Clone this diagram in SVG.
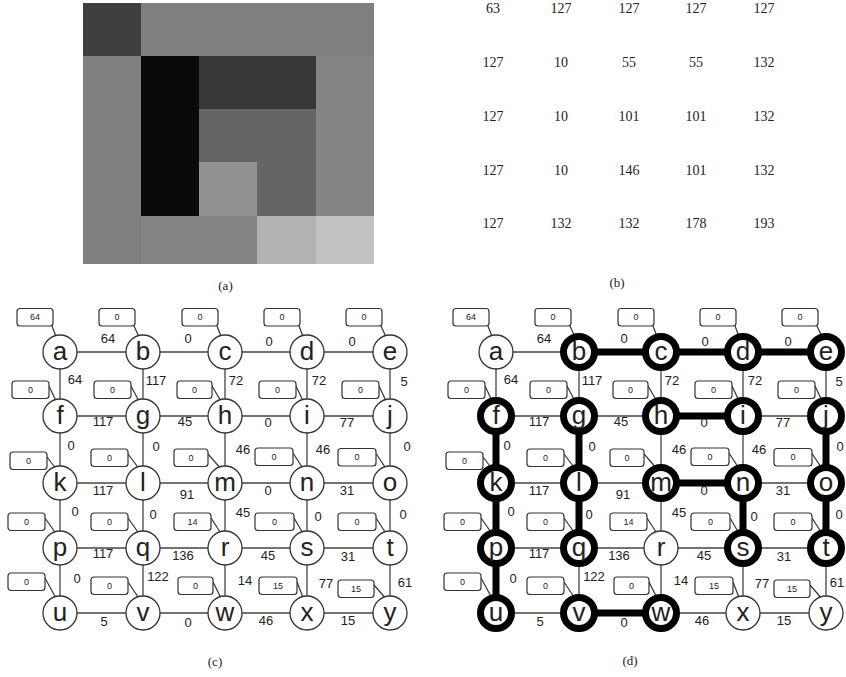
<svg xmlns="http://www.w3.org/2000/svg" width="846" height="677" viewBox="0 0 846 677">
<style>
.cap{font-family:"Liberation Serif",serif;font-size:13px;fill:#222;text-anchor:middle}
.num{font-family:"Liberation Serif",serif;font-size:14px;fill:#222;text-anchor:middle}
.e{stroke:#444;stroke-width:1.3;fill:none}
.et{stroke:#000;stroke-width:7;fill:none}
.w{font-family:"Liberation Sans",Arial,sans-serif;font-size:13px;fill:#222;text-anchor:middle}
.n{fill:#fff;stroke:#333;stroke-width:1.3}
.nt{fill:#fff;stroke:#000;stroke-width:7}
.lt{font-family:"Liberation Sans",Arial,sans-serif;font-size:26px;fill:#222;text-anchor:middle}
.bx{fill:#fff;stroke:#333;stroke-width:1.2}
.bt{font-family:"Liberation Sans",Arial,sans-serif;font-size:9px;fill:#222;text-anchor:middle}
.t{stroke:#333;stroke-width:1.2}
</style>
<rect width="846" height="677" fill="#fff"/>
<!-- panel a -->
<g id="panel-a">
<rect x="83" y="3" width="58" height="53" fill="#3f3f3f"/>
<rect x="141" y="3" width="58" height="53" fill="#7f7f7f"/>
<rect x="199" y="3" width="58" height="53" fill="#7f7f7f"/>
<rect x="257" y="3" width="59" height="53" fill="#7f7f7f"/>
<rect x="316" y="3" width="58" height="53" fill="#7f7f7f"/>
<rect x="83" y="56" width="58" height="53" fill="#7f7f7f"/>
<rect x="141" y="56" width="58" height="53" fill="#0a0a0a"/>
<rect x="199" y="56" width="58" height="53" fill="#373737"/>
<rect x="257" y="56" width="59" height="53" fill="#373737"/>
<rect x="316" y="56" width="58" height="53" fill="#848484"/>
<rect x="83" y="109" width="58" height="53" fill="#7f7f7f"/>
<rect x="141" y="109" width="58" height="53" fill="#0a0a0a"/>
<rect x="199" y="109" width="58" height="53" fill="#656565"/>
<rect x="257" y="109" width="59" height="53" fill="#656565"/>
<rect x="316" y="109" width="58" height="53" fill="#848484"/>
<rect x="83" y="162" width="58" height="54" fill="#7f7f7f"/>
<rect x="141" y="162" width="58" height="54" fill="#0a0a0a"/>
<rect x="199" y="162" width="58" height="54" fill="#929292"/>
<rect x="257" y="162" width="59" height="54" fill="#656565"/>
<rect x="316" y="162" width="58" height="54" fill="#848484"/>
<rect x="83" y="216" width="58" height="48" fill="#7f7f7f"/>
<rect x="141" y="216" width="58" height="48" fill="#848484"/>
<rect x="199" y="216" width="58" height="48" fill="#848484"/>
<rect x="257" y="216" width="59" height="48" fill="#b2b2b2"/>
<rect x="316" y="216" width="58" height="48" fill="#c1c1c1"/>
<text class="cap" x="225.5" y="290">(a)</text>
</g>
<!-- panel b -->
<g id="panel-b">
<text class="num" x="493" y="13">63</text><text class="num" x="561" y="13">127</text><text class="num" x="629" y="13">127</text><text class="num" x="696" y="13">127</text><text class="num" x="764" y="13">127</text>
<text class="num" x="493" y="67">127</text><text class="num" x="561" y="67">10</text><text class="num" x="629" y="67">55</text><text class="num" x="696" y="67">55</text><text class="num" x="764" y="67">132</text>
<text class="num" x="493" y="120.5">127</text><text class="num" x="561" y="120.5">10</text><text class="num" x="629" y="120.5">101</text><text class="num" x="696" y="120.5">101</text><text class="num" x="764" y="120.5">132</text>
<text class="num" x="493" y="174.5">127</text><text class="num" x="561" y="174.5">10</text><text class="num" x="629" y="174.5">146</text><text class="num" x="696" y="174.5">101</text><text class="num" x="764" y="174.5">132</text>
<text class="num" x="493" y="228">127</text><text class="num" x="561" y="228">132</text><text class="num" x="629" y="228">132</text><text class="num" x="696" y="228">178</text><text class="num" x="764" y="228">193</text>
<text class="cap" x="617" y="287">(b)</text>
</g>
<!-- panel c connectors -->
<g id="connectors-c">
<g class="e">
<line x1="60" y1="352" x2="143" y2="352"/><line x1="143" y1="352" x2="225" y2="352"/><line x1="225" y1="352" x2="307" y2="352"/><line x1="307" y1="352" x2="390" y2="352"/>
<line x1="60" y1="416" x2="143" y2="416"/><line x1="143" y1="416" x2="225" y2="416"/><line x1="225" y1="416" x2="307" y2="416"/><line x1="307" y1="416" x2="390" y2="416"/>
<line x1="60" y1="483" x2="143" y2="483"/><line x1="143" y1="483" x2="225" y2="483"/><line x1="225" y1="483" x2="307" y2="483"/><line x1="307" y1="483" x2="390" y2="483"/>
<line x1="60" y1="548" x2="143" y2="548"/><line x1="143" y1="548" x2="225" y2="548"/><line x1="225" y1="548" x2="307" y2="548"/><line x1="307" y1="548" x2="390" y2="548"/>
<line x1="60" y1="613" x2="143" y2="613"/><line x1="143" y1="613" x2="225" y2="613"/><line x1="225" y1="613" x2="307" y2="613"/><line x1="307" y1="613" x2="390" y2="613"/>
<line x1="60" y1="352" x2="60" y2="416"/><line x1="60" y1="416" x2="60" y2="483"/><line x1="60" y1="483" x2="60" y2="548"/><line x1="60" y1="548" x2="60" y2="613"/>
<line x1="143" y1="352" x2="143" y2="416"/><line x1="143" y1="416" x2="143" y2="483"/><line x1="143" y1="483" x2="143" y2="548"/><line x1="143" y1="548" x2="143" y2="613"/>
<line x1="225" y1="352" x2="225" y2="416"/><line x1="225" y1="416" x2="225" y2="483"/><line x1="225" y1="483" x2="225" y2="548"/><line x1="225" y1="548" x2="225" y2="613"/>
<line x1="307" y1="352" x2="307" y2="416"/><line x1="307" y1="416" x2="307" y2="483"/><line x1="307" y1="483" x2="307" y2="548"/><line x1="307" y1="548" x2="307" y2="613"/>
<line x1="390" y1="352" x2="390" y2="416"/><line x1="390" y1="416" x2="390" y2="483"/><line x1="390" y1="483" x2="390" y2="548"/><line x1="390" y1="548" x2="390" y2="613"/>
</g>
<g class="w">
<text x="108" y="343">64</text><text x="188" y="343">0</text><text x="269" y="346">0</text><text x="352" y="346">0</text>
<text x="103" y="426">117</text><text x="185" y="426">45</text><text x="268" y="426.5">0</text><text x="347" y="427">77</text>
<text x="103" y="495">117</text><text x="187" y="498.5">91</text><text x="268" y="494.5">0</text><text x="347" y="495">31</text>
<text x="103" y="558">117</text><text x="183" y="559.5">136</text><text x="268" y="559.5">45</text><text x="348" y="561">31</text>
<text x="104" y="626">5</text><text x="188" y="627">0</text><text x="266" y="625">46</text><text x="348" y="625">15</text>
<text x="75" y="383.5">64</text><text x="156" y="384.5">117</text><text x="236" y="384.5">72</text><text x="319" y="384.5">72</text><text x="404" y="385.5">5</text>
<text x="71" y="449.5">0</text><text x="156" y="450.5">0</text><text x="243" y="453.5">46</text><text x="323" y="453.5">46</text><text x="407" y="451">0</text>
<text x="75" y="516">0</text><text x="153" y="519">0</text><text x="243" y="517">45</text><text x="318" y="521">0</text><text x="403" y="519">0</text>
<text x="77" y="583">0</text><text x="158" y="581">122</text><text x="245" y="584.5">14</text><text x="326" y="588">77</text><text x="405" y="587">61</text>
</g>
</g>
<!-- panel c nodes -->
<g id="c-a"><line class="t" x1="52" y1="326" x2="57" y2="339"/><rect class="bx" x="17" y="308.5" width="36" height="17.5" rx="3"/><text class="bt" x="35" y="320.3">64</text><circle class="n" cx="60" cy="352" r="17"/><text class="lt" x="60" y="360">a</text></g>
<g id="c-b"><line class="t" x1="134" y1="326" x2="140" y2="339"/><rect class="bx" x="99" y="308.5" width="36" height="17.5" rx="3"/><text class="bt" x="117" y="320.3">0</text><circle class="n" cx="143" cy="352" r="17"/><text class="lt" x="143" y="360">b</text></g>
<g id="c-c"><line class="t" x1="217" y1="326" x2="222" y2="339"/><rect class="bx" x="182" y="308.5" width="36" height="17.5" rx="3"/><text class="bt" x="200" y="320.3">0</text><circle class="n" cx="225" cy="352" r="17"/><text class="lt" x="225" y="360">c</text></g>
<g id="c-d"><line class="t" x1="299" y1="326" x2="304" y2="339"/><rect class="bx" x="264" y="308.5" width="36" height="17.5" rx="3"/><text class="bt" x="282" y="320.3">0</text><circle class="n" cx="307" cy="352" r="17"/><text class="lt" x="307" y="360">d</text></g>
<g id="c-e"><line class="t" x1="381" y1="326" x2="387" y2="339"/><rect class="bx" x="346" y="308.5" width="36" height="17.5" rx="3"/><text class="bt" x="364" y="320.3">0</text><circle class="n" cx="390" cy="352" r="17"/><text class="lt" x="390" y="360">e</text></g>
<g id="c-f"><line class="t" x1="49" y1="386" x2="57" y2="403"/><rect class="bx" x="12" y="381" width="37" height="17.5" rx="3"/><text class="bt" x="30.5" y="392.8">0</text><circle class="n" cx="60" cy="416" r="17"/><text class="lt" x="60" y="424">f</text></g>
<g id="c-g"><line class="t" x1="131" y1="386" x2="140" y2="403"/><rect class="bx" x="94" y="381" width="37" height="17.5" rx="3"/><text class="bt" x="112.5" y="392.8">0</text><circle class="n" cx="143" cy="416" r="17"/><text class="lt" x="143" y="424">g</text></g>
<g id="c-h"><line class="t" x1="212" y1="386" x2="222" y2="403"/><rect class="bx" x="177" y="381" width="35" height="17.5" rx="3"/><text class="bt" x="194.5" y="392.8">0</text><circle class="n" cx="225" cy="416" r="17"/><text class="lt" x="225" y="424">h</text></g>
<g id="c-i"><line class="t" x1="296" y1="386" x2="304" y2="403"/><rect class="bx" x="259" y="381" width="37" height="17.5" rx="3"/><text class="bt" x="277.5" y="392.8">0</text><circle class="n" cx="307" cy="416" r="17"/><text class="lt" x="307" y="424">i</text></g>
<g id="c-j"><line class="t" x1="379" y1="386" x2="387" y2="403"/><rect class="bx" x="342" y="381" width="37" height="17.5" rx="3"/><text class="bt" x="360.5" y="392.8">0</text><circle class="n" cx="390" cy="416" r="17"/><text class="lt" x="390" y="424">j</text></g>
<g id="c-k"><line class="t" x1="47" y1="457" x2="57" y2="470"/><rect class="bx" x="10" y="452" width="37" height="17.5" rx="3"/><text class="bt" x="28.5" y="463.8">0</text><circle class="n" cx="60" cy="483" r="17"/><text class="lt" x="60" y="491">k</text></g>
<g id="c-l"><line class="t" x1="128" y1="454" x2="140" y2="470"/><rect class="bx" x="91" y="449" width="37" height="17.5" rx="3"/><text class="bt" x="109.5" y="460.8">0</text><circle class="n" cx="143" cy="483" r="17"/><text class="lt" x="143" y="491">l</text></g>
<g id="c-m"><line class="t" x1="208" y1="454" x2="222" y2="470"/><rect class="bx" x="174" y="449" width="34" height="17.5" rx="3"/><text class="bt" x="191" y="460.8">0</text><circle class="n" cx="225" cy="483" r="17"/><text class="lt" x="225" y="491">m</text></g>
<g id="c-n"><line class="t" x1="293" y1="453" x2="304" y2="470"/><rect class="bx" x="255" y="448" width="38" height="17.5" rx="3"/><text class="bt" x="274" y="459.8">0</text><circle class="n" cx="307" cy="483" r="17"/><text class="lt" x="307" y="491">n</text></g>
<g id="c-o"><line class="t" x1="376" y1="453.5" x2="387" y2="470"/><rect class="bx" x="338" y="448.5" width="38" height="17.5" rx="3"/><text class="bt" x="357" y="460.3">0</text><circle class="n" cx="390" cy="483" r="17"/><text class="lt" x="390" y="491">o</text></g>
<g id="c-p"><line class="t" x1="45" y1="518" x2="57" y2="535"/><rect class="bx" x="8" y="513" width="37" height="17.5" rx="3"/><text class="bt" x="26.5" y="524.8">0</text><circle class="n" cx="60" cy="548" r="17"/><text class="lt" x="60" y="556">p</text></g>
<g id="c-q"><line class="t" x1="128" y1="518" x2="140" y2="535"/><rect class="bx" x="91" y="513" width="37" height="17.5" rx="3"/><text class="bt" x="109.5" y="524.8">0</text><circle class="n" cx="143" cy="548" r="17"/><text class="lt" x="143" y="556">q</text></g>
<g id="c-r"><line class="t" x1="211" y1="518" x2="222" y2="535"/><rect class="bx" x="174" y="513" width="37" height="17.5" rx="3"/><text class="bt" x="192.5" y="524.8">14</text><circle class="n" cx="225" cy="548" r="17"/><text class="lt" x="225" y="556">r</text></g>
<g id="c-s"><line class="t" x1="294" y1="518" x2="304" y2="535"/><rect class="bx" x="255" y="513" width="39" height="17.5" rx="3"/><text class="bt" x="274.5" y="524.8">0</text><circle class="n" cx="307" cy="548" r="17"/><text class="lt" x="307" y="556">s</text></g>
<g id="c-t"><line class="t" x1="376" y1="518" x2="387" y2="535"/><rect class="bx" x="338" y="513" width="38" height="17.5" rx="3"/><text class="bt" x="357" y="524.8">0</text><circle class="n" cx="390" cy="548" r="17"/><text class="lt" x="390" y="556">t</text></g>
<g id="c-u"><line class="t" x1="45" y1="578" x2="57" y2="600"/><rect class="bx" x="8" y="573" width="37" height="17.5" rx="3"/><text class="bt" x="26.5" y="584.8">0</text><circle class="n" cx="60" cy="613" r="17"/><text class="lt" x="60" y="621">u</text></g>
<g id="c-v"><line class="t" x1="128" y1="582" x2="140" y2="600"/><rect class="bx" x="91" y="577" width="37" height="17.5" rx="3"/><text class="bt" x="109.5" y="588.8">0</text><circle class="n" cx="143" cy="613" r="17"/><text class="lt" x="143" y="621">v</text></g>
<g id="c-w"><line class="t" x1="213" y1="582" x2="222" y2="600"/><rect class="bx" x="178" y="577" width="35" height="17.5" rx="3"/><text class="bt" x="195.5" y="588.8">0</text><circle class="n" cx="225" cy="613" r="17"/><text class="lt" x="225" y="621">w</text></g>
<g id="c-x"><line class="t" x1="297" y1="582" x2="304" y2="600"/><rect class="bx" x="259" y="577" width="38" height="17.5" rx="3"/><text class="bt" x="278" y="588.8">15</text><circle class="n" cx="307" cy="613" r="17"/><text class="lt" x="307" y="621">x</text></g>
<g id="c-y"><line class="t" x1="374" y1="585" x2="387" y2="600"/><rect class="bx" x="338" y="580" width="36" height="17.5" rx="3"/><text class="bt" x="356" y="591.8">15</text><circle class="n" cx="390" cy="613" r="17"/><text class="lt" x="390" y="621">y</text></g>
<text class="cap" x="215" y="666">(c)</text>
<!-- panel d connectors -->
<g id="connectors-d">
<g class="w">
<text x="544" y="343">64</text><text x="624" y="343">0</text><text x="705" y="346">0</text><text x="788" y="346">0</text>
<text x="539" y="426">117</text><text x="621" y="426">45</text><text x="704" y="426.5">0</text><text x="783" y="427">77</text>
<text x="539" y="495">117</text><text x="623" y="498.5">91</text><text x="704" y="494.5">0</text><text x="783" y="495">31</text>
<text x="539" y="558">117</text><text x="619" y="559.5">136</text><text x="704" y="559.5">45</text><text x="784" y="561">31</text>
<text x="540" y="626">5</text><text x="624" y="627">0</text><text x="702" y="625">46</text><text x="784" y="625">15</text>
<text x="511" y="383.5">64</text><text x="592" y="384.5">117</text><text x="672" y="384.5">72</text><text x="755" y="384.5">72</text><text x="839" y="385.5">5</text>
<text x="507" y="449.5">0</text><text x="592" y="450.5">0</text><text x="679" y="453.5">46</text><text x="759" y="453.5">46</text><text x="840" y="451">0</text>
<text x="511" y="516">0</text><text x="589" y="519">0</text><text x="679" y="517">45</text><text x="754" y="521">0</text><text x="839" y="519">0</text>
<text x="513" y="583">0</text><text x="594" y="581">122</text><text x="681" y="584.5">14</text><text x="762" y="588">77</text><text x="837" y="587">61</text>
</g>
<g class="e">
<line x1="496" y1="352" x2="579" y2="352"/>
<line x1="496" y1="416" x2="579" y2="416"/><line x1="579" y1="416" x2="661" y2="416"/><line x1="743" y1="416" x2="826" y2="416"/>
<line x1="496" y1="483" x2="579" y2="483"/><line x1="579" y1="483" x2="661" y2="483"/><line x1="743" y1="483" x2="826" y2="483"/>
<line x1="496" y1="548" x2="579" y2="548"/><line x1="579" y1="548" x2="661" y2="548"/><line x1="661" y1="548" x2="743" y2="548"/><line x1="743" y1="548" x2="826" y2="548"/>
<line x1="496" y1="613" x2="579" y2="613"/><line x1="661" y1="613" x2="743" y2="613"/><line x1="743" y1="613" x2="826" y2="613"/>
<line x1="496" y1="352" x2="496" y2="416"/>
<line x1="579" y1="352" x2="579" y2="416"/><line x1="579" y1="548" x2="579" y2="613"/>
<line x1="661" y1="352" x2="661" y2="416"/><line x1="661" y1="416" x2="661" y2="483"/><line x1="661" y1="483" x2="661" y2="548"/><line x1="661" y1="548" x2="661" y2="613"/>
<line x1="743" y1="352" x2="743" y2="416"/><line x1="743" y1="416" x2="743" y2="483"/><line x1="743" y1="548" x2="743" y2="613"/>
<line x1="826" y1="352" x2="826" y2="416"/><line x1="826" y1="548" x2="826" y2="613"/>
</g>
<g class="et">
<line x1="579" y1="352" x2="661" y2="352"/><line x1="661" y1="352" x2="743" y2="352"/><line x1="743" y1="352" x2="826" y2="352"/>
<line x1="661" y1="416" x2="743" y2="416"/>
<line x1="661" y1="483" x2="743" y2="483"/>
<line x1="579" y1="613" x2="661" y2="613"/>
<line x1="496" y1="416" x2="496" y2="483"/><line x1="496" y1="483" x2="496" y2="548"/><line x1="496" y1="548" x2="496" y2="613"/>
<line x1="579" y1="416" x2="579" y2="483"/><line x1="579" y1="483" x2="579" y2="548"/>
<line x1="743" y1="483" x2="743" y2="548"/>
<line x1="826" y1="416" x2="826" y2="483"/><line x1="826" y1="483" x2="826" y2="548"/>
</g>
</g>
<!-- panel d nodes -->
<g id="d-a"><line class="t" x1="488" y1="326" x2="493" y2="339"/><rect class="bx" x="453" y="308.5" width="36" height="17.5" rx="3"/><text class="bt" x="471" y="320.3">64</text><circle class="n" cx="496" cy="352" r="17"/><text class="lt" x="496" y="360">a</text></g>
<g id="d-b"><line class="t" x1="570" y1="326" x2="576" y2="339"/><rect class="bx" x="535" y="308.5" width="36" height="17.5" rx="3"/><text class="bt" x="553" y="320.3">0</text><circle class="nt" cx="579" cy="352" r="15.5"/><text class="lt" x="579" y="360">b</text></g>
<g id="d-c"><line class="t" x1="653" y1="326" x2="658" y2="339"/><rect class="bx" x="618" y="308.5" width="36" height="17.5" rx="3"/><text class="bt" x="636" y="320.3">0</text><circle class="nt" cx="661" cy="352" r="15.5"/><text class="lt" x="661" y="360">c</text></g>
<g id="d-d"><line class="t" x1="735" y1="326" x2="740" y2="339"/><rect class="bx" x="700" y="308.5" width="36" height="17.5" rx="3"/><text class="bt" x="718" y="320.3">0</text><circle class="nt" cx="743" cy="352" r="15.5"/><text class="lt" x="743" y="360">d</text></g>
<g id="d-e"><line class="t" x1="817" y1="326" x2="823" y2="339"/><rect class="bx" x="782" y="308.5" width="36" height="17.5" rx="3"/><text class="bt" x="800" y="320.3">0</text><circle class="nt" cx="826" cy="352" r="15.5"/><text class="lt" x="826" y="360">e</text></g>
<g id="d-f"><line class="t" x1="485" y1="386" x2="493" y2="403"/><rect class="bx" x="448" y="381" width="37" height="17.5" rx="3"/><text class="bt" x="466.5" y="392.8">0</text><circle class="nt" cx="496" cy="416" r="15.5"/><text class="lt" x="496" y="424">f</text></g>
<g id="d-g"><line class="t" x1="567" y1="386" x2="576" y2="403"/><rect class="bx" x="530" y="381" width="37" height="17.5" rx="3"/><text class="bt" x="548.5" y="392.8">0</text><circle class="nt" cx="579" cy="416" r="15.5"/><text class="lt" x="579" y="424">g</text></g>
<g id="d-h"><line class="t" x1="648" y1="386" x2="658" y2="403"/><rect class="bx" x="613" y="381" width="35" height="17.5" rx="3"/><text class="bt" x="630.5" y="392.8">0</text><circle class="nt" cx="661" cy="416" r="15.5"/><text class="lt" x="661" y="424">h</text></g>
<g id="d-i"><line class="t" x1="732" y1="386" x2="740" y2="403"/><rect class="bx" x="695" y="381" width="37" height="17.5" rx="3"/><text class="bt" x="713.5" y="392.8">0</text><circle class="nt" cx="743" cy="416" r="15.5"/><text class="lt" x="743" y="424">i</text></g>
<g id="d-j"><line class="t" x1="815" y1="386" x2="823" y2="403"/><rect class="bx" x="778" y="381" width="37" height="17.5" rx="3"/><text class="bt" x="796.5" y="392.8">0</text><circle class="nt" cx="826" cy="416" r="15.5"/><text class="lt" x="826" y="424">j</text></g>
<g id="d-k"><line class="t" x1="483" y1="457" x2="493" y2="470"/><rect class="bx" x="446" y="452" width="37" height="17.5" rx="3"/><text class="bt" x="464.5" y="463.8">0</text><circle class="nt" cx="496" cy="483" r="15.5"/><text class="lt" x="496" y="491">k</text></g>
<g id="d-l"><line class="t" x1="564" y1="454" x2="576" y2="470"/><rect class="bx" x="527" y="449" width="37" height="17.5" rx="3"/><text class="bt" x="545.5" y="460.8">0</text><circle class="nt" cx="579" cy="483" r="15.5"/><text class="lt" x="579" y="491">l</text></g>
<g id="d-m"><line class="t" x1="644" y1="454" x2="658" y2="470"/><rect class="bx" x="610" y="449" width="34" height="17.5" rx="3"/><text class="bt" x="627" y="460.8">0</text><circle class="nt" cx="661" cy="483" r="15.5"/><text class="lt" x="661" y="491">m</text></g>
<g id="d-n"><line class="t" x1="729" y1="453" x2="740" y2="470"/><rect class="bx" x="691" y="448" width="38" height="17.5" rx="3"/><text class="bt" x="710" y="459.8">0</text><circle class="nt" cx="743" cy="483" r="15.5"/><text class="lt" x="743" y="491">n</text></g>
<g id="d-o"><line class="t" x1="812" y1="453.5" x2="823" y2="470"/><rect class="bx" x="774" y="448.5" width="38" height="17.5" rx="3"/><text class="bt" x="793" y="460.3">0</text><circle class="nt" cx="826" cy="483" r="15.5"/><text class="lt" x="826" y="491">o</text></g>
<g id="d-p"><line class="t" x1="481" y1="518" x2="493" y2="535"/><rect class="bx" x="444" y="513" width="37" height="17.5" rx="3"/><text class="bt" x="462.5" y="524.8">0</text><circle class="nt" cx="496" cy="548" r="15.5"/><text class="lt" x="496" y="556">p</text></g>
<g id="d-q"><line class="t" x1="564" y1="518" x2="576" y2="535"/><rect class="bx" x="527" y="513" width="37" height="17.5" rx="3"/><text class="bt" x="545.5" y="524.8">0</text><circle class="nt" cx="579" cy="548" r="15.5"/><text class="lt" x="579" y="556">q</text></g>
<g id="d-r"><line class="t" x1="647" y1="518" x2="658" y2="535"/><rect class="bx" x="610" y="513" width="37" height="17.5" rx="3"/><text class="bt" x="628.5" y="524.8">14</text><circle class="n" cx="661" cy="548" r="17"/><text class="lt" x="661" y="556">r</text></g>
<g id="d-s"><line class="t" x1="730" y1="518" x2="740" y2="535"/><rect class="bx" x="691" y="513" width="39" height="17.5" rx="3"/><text class="bt" x="710.5" y="524.8">0</text><circle class="nt" cx="743" cy="548" r="15.5"/><text class="lt" x="743" y="556">s</text></g>
<g id="d-t"><line class="t" x1="812" y1="518" x2="823" y2="535"/><rect class="bx" x="774" y="513" width="38" height="17.5" rx="3"/><text class="bt" x="793" y="524.8">0</text><circle class="nt" cx="826" cy="548" r="15.5"/><text class="lt" x="826" y="556">t</text></g>
<g id="d-u"><line class="t" x1="481" y1="578" x2="493" y2="600"/><rect class="bx" x="444" y="573" width="37" height="17.5" rx="3"/><text class="bt" x="462.5" y="584.8">0</text><circle class="nt" cx="496" cy="613" r="15.5"/><text class="lt" x="496" y="621">u</text></g>
<g id="d-v"><line class="t" x1="564" y1="582" x2="576" y2="600"/><rect class="bx" x="527" y="577" width="37" height="17.5" rx="3"/><text class="bt" x="545.5" y="588.8">0</text><circle class="nt" cx="579" cy="613" r="15.5"/><text class="lt" x="579" y="621">v</text></g>
<g id="d-w"><line class="t" x1="649" y1="582" x2="658" y2="600"/><rect class="bx" x="614" y="577" width="35" height="17.5" rx="3"/><text class="bt" x="631.5" y="588.8">0</text><circle class="nt" cx="661" cy="613" r="15.5"/><text class="lt" x="661" y="621">w</text></g>
<g id="d-x"><line class="t" x1="733" y1="582" x2="740" y2="600"/><rect class="bx" x="695" y="577" width="38" height="17.5" rx="3"/><text class="bt" x="714" y="588.8">15</text><circle class="n" cx="743" cy="613" r="17"/><text class="lt" x="743" y="621">x</text></g>
<g id="d-y"><line class="t" x1="810" y1="585" x2="823" y2="600"/><rect class="bx" x="774" y="580" width="36" height="17.5" rx="3"/><text class="bt" x="792" y="591.8">15</text><circle class="n" cx="826" cy="613" r="17"/><text class="lt" x="826" y="621">y</text></g>
<text class="cap" x="630" y="665">(d)</text>
</svg>
